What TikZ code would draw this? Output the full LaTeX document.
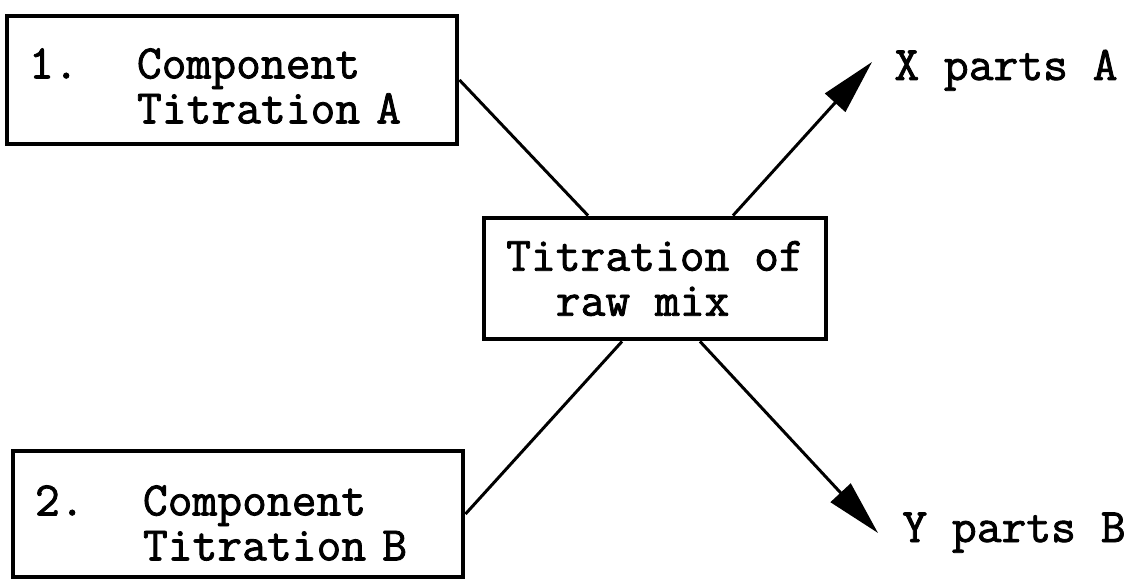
\documentclass[tikz,border=0pt]{standalone}
\usepackage{fontspec}
\newfontfamily\typerfont{Latin Modern Mono}[FakeBold=1.7]
\usetikzlibrary{arrows.meta,positioning}
\newcommand{\compWord}{Component}
\newcommand{\titrWord}{Titration}
\newcommand{\lift}[1]{\rule{0pt}{#1}}
\newcommand{\itemlead}[1]{\makebox[1.08cm][l]{#1}}

\begin{document}
\begin{tikzpicture}[thick, font=\typerfont\fontsize{13.7}{12.8}\selectfont,
        box/.style={draw, line width=1.4pt, align=left, inner sep=0pt},
        compbox/.style={box, text width=4.06cm, inner xsep=0.22cm},
        link/.style={line width=0.85pt},
        outlink/.style={line width=0.85pt, -{Triangle[length=0.55cm,width=0.27cm]}}]
        \useasboundingbox (0,0) rectangle (11.41,5.80);
        \coordinate (c_A) at (2.32, 5.00);
        \coordinate (c_B) at (2.38, 0.66);
        \coordinate (c_M) at (6.55, 3.015);
        \coordinate (tip_A) at (8.72, 5.18);
        \coordinate (tip_B) at (8.78, 0.47);
        \coordinate (text_A) at (8.93, 5.00);
        \coordinate (text_B) at (9.01, 0.38);

        \node[compbox, minimum height=1.28cm] (comp_A) at (c_A)
            {\lift{0.42cm}\itemlead{1.}\compWord\\\itemlead{}\titrWord\ A};
        \node[compbox, minimum height=1.26cm] (comp_B) at (c_B)
            {\lift{0.48cm}\itemlead{2.}\compWord\\\itemlead{}\titrWord\ B};
        \node[box, minimum width=3.42cm, minimum height=1.21cm] (mix) at (c_M)
            {\titrWord\ of\\\ \ raw mix};

        \node[anchor=base west, inner sep=0pt] (parts_A) at (text_A) {X parts A};
        \node[anchor=base west, inner sep=0pt] (parts_B) at (text_B) {Y parts B};

        % inputs into the raw mix
        \draw [link] (comp_A.east) -- ([xshift=-0.67cm]mix.north);
        \draw [link] (comp_B.east) -- ([xshift=-0.33cm]mix.south);

        % outputs
        \draw [outlink] ([xshift=0.78cm]mix.north) -- (tip_A);
        \draw [outlink] ([xshift=0.45cm]mix.south) -- (tip_B);

    \end{tikzpicture}
\end{document}
